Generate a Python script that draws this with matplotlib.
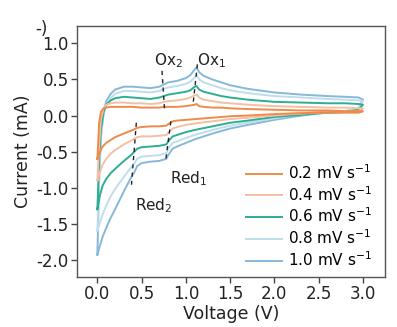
import matplotlib
matplotlib.use('Agg')
import matplotlib.pyplot as plt

plt.rcParams['font.family'] = ['DejaVu Sans']

# ── data ─────────────────────────────────────
rates  = ['0.2', '0.4', '0.6', '0.8', '1.0']
colors = ['#F08A4B', '#F5BFA3', '#2EAE91', '#BFDDEA', '#86B8DA']

# anodic sweep (0 -> 3 V)
v_up = [0.0, 0.02, 0.04, 0.07, 0.1, 0.15, 0.2, 0.3, 0.4, 0.5, 0.6, 0.7, 0.75, 0.8,
        0.9, 1.0, 1.05, 1.1, 1.12, 1.15, 1.2, 1.3, 1.4, 1.5, 1.7, 2.0, 2.3, 2.6,
        2.8, 2.95, 3.0]
i_up = {
    '0.2': [-0.6, -0.1, 0.05, 0.1, 0.11, 0.12, 0.12, 0.12, 0.12, 0.11, 0.11, 0.11, 0.12, 0.12,
            0.12, 0.13, 0.14, 0.15, 0.16, 0.13, 0.12, 0.11, 0.11, 0.1, 0.09, 0.08, 0.07, 0.07,
            0.06, 0.06, 0.06],
    '0.4': [-0.9, -0.4, -0.05, 0.1, 0.15, 0.17, 0.18, 0.18, 0.17, 0.17, 0.16, 0.17, 0.19, 0.2,
            0.21, 0.23, 0.25, 0.28, 0.29, 0.25, 0.22, 0.2, 0.18, 0.17, 0.15, 0.13, 0.12, 0.11,
            0.11, 0.1, 0.1],
    '0.6': [-1.3, -0.6, -0.2, 0.05, 0.15, 0.21, 0.24, 0.26, 0.25, 0.24, 0.23, 0.25, 0.27, 0.29,
            0.31, 0.33, 0.35, 0.4, 0.41, 0.36, 0.33, 0.3, 0.27, 0.25, 0.22, 0.19, 0.18, 0.17,
            0.17, 0.16, 0.15],
    '0.8': [-1.6, -0.8, -0.3, 0.0, 0.15, 0.24, 0.3, 0.34, 0.34, 0.33, 0.32, 0.34, 0.37, 0.39,
            0.41, 0.44, 0.47, 0.53, 0.56, 0.5, 0.46, 0.42, 0.38, 0.35, 0.31, 0.27, 0.25, 0.23,
            0.22, 0.21, 0.2],
    '1.0': [-1.93, -0.9, -0.3, 0.05, 0.2, 0.3, 0.36, 0.4, 0.4, 0.39, 0.38, 0.4, 0.43, 0.46,
            0.48, 0.52, 0.56, 0.64, 0.67, 0.6, 0.55, 0.5, 0.46, 0.42, 0.37, 0.32, 0.29, 0.27,
            0.26, 0.25, 0.22],
}

# cathodic sweep (3 -> 0 V)
v_dn = [3.0, 2.95, 2.8, 2.5, 2.2, 2.0, 1.7, 1.5, 1.3, 1.1, 1.0, 0.9, 0.85, 0.8, 0.78,
        0.7, 0.6, 0.5, 0.45, 0.42, 0.38, 0.3, 0.2, 0.15, 0.1, 0.06, 0.03, 0.0]
i_dn = {
    '0.2': [0.06, 0.04, 0.04, 0.04, 0.03, 0.02, 0.0, -0.01, -0.03, -0.05, -0.06, -0.07, -0.08,
            -0.12, -0.14, -0.15, -0.15, -0.16, -0.17, -0.19, -0.21, -0.25, -0.3, -0.34, -0.38,
            -0.43, -0.5, -0.6],
    '0.4': [0.1, 0.06, 0.05, 0.04, 0.02, 0.0, -0.03, -0.05, -0.08, -0.11, -0.13, -0.16, -0.18,
            -0.24, -0.27, -0.28, -0.29, -0.29, -0.3, -0.32, -0.35, -0.4, -0.48, -0.53, -0.6,
            -0.68, -0.78, -0.9],
    '0.6': [0.15, 0.08, 0.05, 0.03, 0.0, -0.02, -0.07, -0.1, -0.15, -0.2, -0.23, -0.27, -0.29,
            -0.36, -0.4, -0.42, -0.43, -0.44, -0.46, -0.5, -0.55, -0.63, -0.74, -0.8, -0.88,
            -0.97, -1.1, -1.3],
    '0.8': [0.2, 0.1, 0.06, 0.04, 0.0, -0.04, -0.1, -0.14, -0.2, -0.27, -0.31, -0.36, -0.38,
            -0.46, -0.52, -0.55, -0.56, -0.57, -0.6, -0.66, -0.72, -0.85, -1.02, -1.12, -1.25,
            -1.37, -1.48, -1.6],
    '1.0': [0.22, 0.1, 0.06, 0.03, -0.02, -0.06, -0.13, -0.18, -0.25, -0.33, -0.38, -0.43, -0.46,
            -0.55, -0.6, -0.63, -0.64, -0.66, -0.7, -0.78, -0.86, -1.05, -1.3, -1.42, -1.56,
            -1.68, -1.8, -1.93],
}

# peak marker lines: (V start, V end), (I start, I end)
peak_names = ['Ox$_2$', 'Ox$_1$', 'Red$_1$', 'Red$_2$']
peak_v     = [(0.73, 0.76), (1.13, 1.08), (0.83, 0.77), (0.44, 0.385)]
peak_i     = [(0.62, 0.06), (0.71, 0.15), (-0.08, -0.64), (-0.1, -0.96)]
label_pos  = [(0.8, 0.76), (1.29, 0.76), (1.03, -0.87), (0.64, -1.25)]

fig = plt.figure(figsize=(3.97, 3.27), dpi=100)
ax = fig.add_axes([0.194, 0.153, 0.776, 0.767])

handles = []
for rate, c in reversed(list(zip(rates, colors))):
    h, = ax.plot(v_up + v_dn, i_up[rate] + i_dn[rate], color=c, lw=1.4,
                 solid_joinstyle='round')
    handles.append((h, rate))
handles = handles[::-1]

for (v0, v1), (i0, i1) in zip(peak_v, peak_i):
    ax.plot([v0, v1], [i0, i1], color='#222222', lw=1.0, ls=(0, (3, 3)))
for name, (x, y) in zip(peak_names, label_pos):
    ax.text(x, y, name, ha='center', va='center', fontsize=11, color='#222222')

ax.legend([h for h, _ in handles], [f'{r} mV s$^{{-1}}$' for _, r in handles],
          loc='upper left', bbox_to_anchor=(0.51, 0.502), frameon=False, fontsize=11,
          handlelength=2.35, handletextpad=0.4, labelspacing=0.2, borderpad=0.3)

ax.set_xlim(-0.23, 3.25)
ax.set_ylim(-2.24, 1.24)
ax.set_xticks([0.0, 0.5, 1.0, 1.5, 2.0, 2.5, 3.0])
ax.set_yticks([-2.0, -1.5, -1.0, -0.5, 0.0, 0.5, 1.0])
ax.set_xticklabels(['0.0', '0.5', '1.0', '1.5', '2.0', '2.5', '3.0'])
ax.set_yticklabels(['-2.0', '-1.5', '-1.0', '-0.5', '0.0', '0.5', '1.0'])
ax.tick_params(labelsize=12, length=4, width=1, pad=2, color='#444444', labelcolor='#222222')
ax.set_xlabel('Voltage (V)', fontsize=12.5, color='#222222', labelpad=1)
ax.set_ylabel('Current (mA)', fontsize=12.5, color='#222222', labelpad=3)
for s in ax.spines.values():
    s.set_color('#555555')
    s.set_linewidth(1.0)

# cropped panel-label remnant at the top-left corner
fig.text(0.088, 0.895, '-)', fontsize=12, color='#222222')

fig.savefig('out.png', dpi=100)
